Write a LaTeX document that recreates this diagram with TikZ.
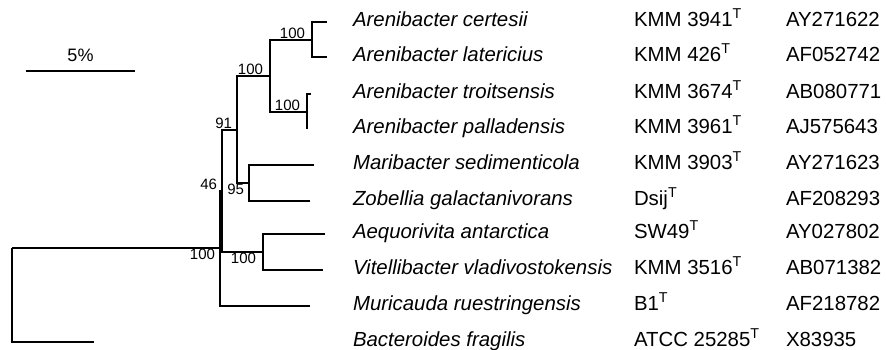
\documentclass[tikz,border=0pt]{standalone}
\usepackage{fontspec}
\setmainfont{Liberation Sans}

\begin{document}
\begin{tikzpicture}[x=0.5pt, y=-0.5pt, line width=1pt,
          boot/.style={inner sep=1pt, font=\fontsize{7.5}{9}\selectfont},
          taxon/.style={anchor=base west, inner sep=0pt, font=\fontsize{10.2}{12}\selectfont},
        ]
          \useasboundingbox (0,0) rectangle (886,349);
          % internal nodes
          \coordinate (root) at ( 12, 248);
          \coordinate (nH)   at (220, 248);
          \coordinate (nG)   at (222, 190.5);
          \coordinate (nE)   at (237, 129.5);
          \coordinate (nC)   at (270,  76);
          \coordinate (nA)   at (312,  40);
          \coordinate (nB)   at (307, 112);
          \coordinate (nD)   at (249, 183);
          \coordinate (nF)   at (263, 252);
          % tips
          \coordinate (t1)  at (327,  22);
          \coordinate (t2)  at (327,  57);
          \coordinate (t3)  at (311,  94);
          \coordinate (t4)  at (307, 129);
          \coordinate (t5)  at (314, 165);
          \coordinate (t6)  at (310, 201);
          \coordinate (t7)  at (325, 234);
          \coordinate (t8)  at (323, 270);
          \coordinate (t9)  at (310, 306);
          \coordinate (t10) at ( 94, 342);
          % branches
          \draw (root) |- (nH);
          \draw (root) |- (t10);
          \draw (nH) |- (nG);
          \draw (nH) |- (t9);
          \draw (nG) |- (nE);
          \draw (nG) |- (nF);
          \draw (nE) |- (nC);
          \draw (nE) |- (nD);
          \draw (nC) |- (nA);
          \draw (nC) |- (nB);
          \draw (nA) |- (t1);
          \draw (nA) |- (t2);
          \draw (nB) |- (t3);
          \draw (nB) |- (t4);
          \draw (nD) |- (t5);
          \draw (nD) |- (t6);
          \draw (nF) |- (t7);
          \draw (nF) |- (t8);
          % bootstrap values
          \node[boot, anchor=south east] (bA) at ([xshift=-2pt, yshift=-1pt]nA) {100};
          \node[boot, anchor=south east] (bC) at ([xshift=-2pt, yshift=-1pt]nC) {100};
          \node[boot, anchor=south east] (bB) at ([xshift=-2pt, yshift=-1pt]nB) {100};
          \node[boot, anchor=south east] (bE) at ([xshift=-1pt, yshift=-1pt]nE) {91};
          \node[boot, anchor=south east] (bG) at ([xshift=-1pt, yshift=-1pt]nG) {46};
          \node[boot, anchor=north east] (bD) at ([xshift=-1pt, yshift=1pt]nD) {95};
          \node[boot, anchor=north east] (bH) at ([xshift=-1pt, yshift=1pt]nH) {100};
          \node[boot, anchor=north east] (bF) at ([xshift=-2pt, yshift=1pt]nF) {100};
          % scale bar
          \coordinate (s1) at ( 26, 71);
          \coordinate (s2) at (135, 71);
          \draw (s1) -- (s2) node[midway, above=3pt, inner sep=1pt,
            font=\fontsize{9}{11}\selectfont] (sc) {5\%};
          % taxa
          \foreach \i/\yy/\sp/\st/\ac in {
              1/22/Arenibacter certesii/KMM 3941/AY271622,
              2/57/Arenibacter latericius/KMM 426/AF052742,
              3/94/Arenibacter troitsensis/KMM 3674/AB080771,
              4/129/Arenibacter palladensis/KMM 3961/AJ575643,
              5/165/Maribacter sedimenticola/KMM 3903/AY271623,
              6/201/Zobellia galactanivorans/Dsij/AF208293,
              7/234/Aequorivita antarctica/SW49/AY027802,
              8/270/Vitellibacter vladivostokensis/KMM 3516/AB071382,
              9/306/Muricauda ruestringensis/B1/AF218782,
              10/342/Bacteroides fragilis/ATCC 25285/X83935} {
            \node[taxon] (sp\i) at (352, \yy+4) {\itshape\sp};
            \node[taxon] (st\i) at (633, \yy+4) {\st\textsuperscript{T}};
            \node[taxon] (ac\i) at (785, \yy+4) {\ac};
          }
        \end{tikzpicture}
\end{document}
